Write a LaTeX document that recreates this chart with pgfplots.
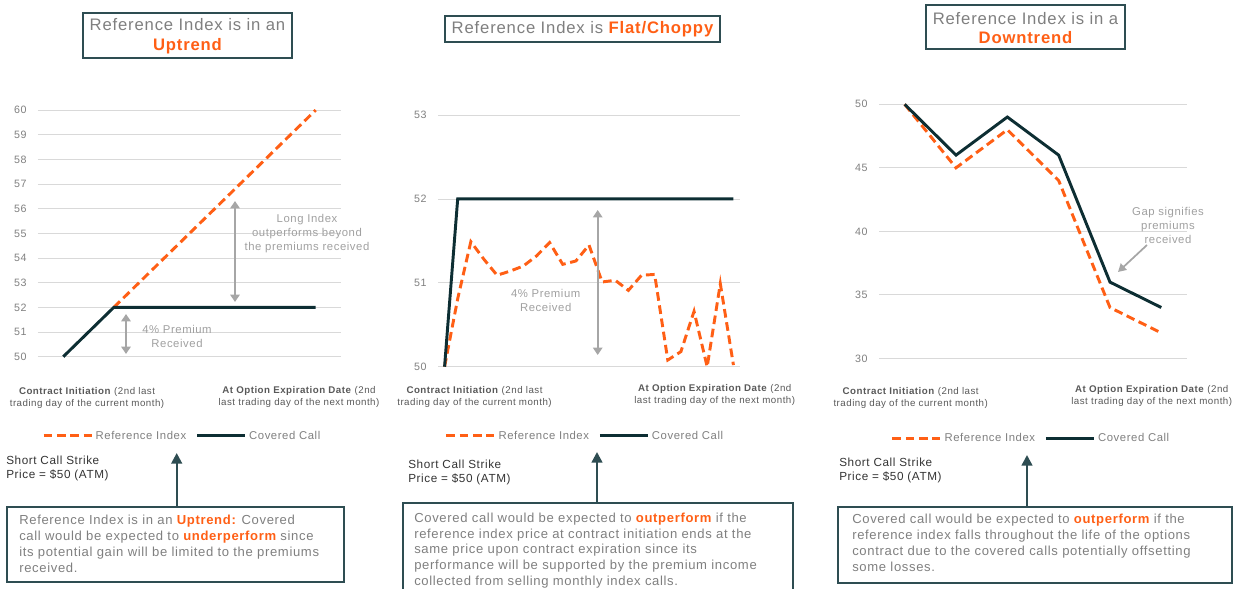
\documentclass[border=0pt]{standalone}
\usepackage{pgfplots}
\pgfplotsset{compat=1.18}
\usepackage{fontspec}
\setmainfont{Liberation Sans}[LetterSpace=5]
\usetikzlibrary{arrows.meta}
\definecolor{orng}{HTML}{FF5F15}
\definecolor{dark}{HTML}{0D2E33}
\definecolor{boxc}{HTML}{2E4D52}
\definecolor{gtxt}{HTML}{7F7F7F}
\definecolor{ltxt}{HTML}{A0A0A0}
\definecolor{garrow}{HTML}{A6A6A6}
\definecolor{gridc}{HTML}{D9D9D9}
\definecolor{lbl}{HTML}{595959}
\definecolor{stxt}{HTML}{333333}

\pgfplotsset{
  cc/.style={scale only axis, clip=false, axis line style={draw=none}, major tick length=0pt,
    xtick=\empty, ymajorgrids, grid style={gridc, line width=0.6pt},
    yticklabel style={font=\fontsize{8}{9}\selectfont, text=gtxt, xshift=-5pt},
    /pgf/number format/assume math mode=true,
    legend columns=2,
    legend style={draw=none, fill=none, font=\fontsize{8.5}{10}\selectfont, text=gtxt, anchor=center,
      /tikz/column 2/.style={column sep=5pt}, inner sep=0pt, nodes={inner sep=2pt}},
    legend image code/.code={\draw[#1] (0pt,0pt) -- (36pt,0pt);}},
  refl/.style={orng, line width=2.2pt, dash pattern=on 6.5pt off 3.5pt},
  ccl/.style={dark, line width=2.2pt},
}

\begin{document}
\begin{tikzpicture}
\path[use as bounding box] (0,0) rectangle (934.5pt,441.75pt);

% ---------- Chart 1: Uptrend ----------
\begin{axis}[cc, at={(28.5pt,174.2pt)}, anchor=south west, width=227.25pt, height=185pt,
  xmin=-0.5, xmax=5.5, ymin=50, ymax=60, ytick={50,51,...,60},
  legend style={at={(0.477,-0.321)}}]
\addplot[refl] coordinates {(1,52)(2,54)(3,56)(4,58)(5,60)};
\addlegendentry{Reference Index}
\addplot[ccl] coordinates {(0,50)(1,52)(2,52)(3,52)(4,52)(5,52)};
\addlegendentry{Covered Call}
\end{axis}

% ---------- Chart 2: Flat/Choppy ----------
\begin{axis}[cc, at={(328.5pt,166.7pt)}, anchor=south west, width=226.5pt, height=188.8pt,
  xmin=-0.5, xmax=22.5, ymin=50, ymax=53, ytick={50,51,52,53},
  legend style={at={(0.488,-0.275)}}]
\addplot[refl] coordinates {(0,50)(1,50.81)(2,51.49)(3,51.28)(4,51.09)(5,51.14)(6,51.2)(7,51.32)(8,51.48)(9,51.22)(10,51.26)(11,51.45)(12,51.01)(13,51.03)(14,50.91)(15,51.09)(16,51.1)(17,50.08)(18,50.18)(19,50.66)(20,50.0)(21,50.99)(22,50.02)};
\addlegendentry{Reference Index}
\addplot[ccl] coordinates {(0,50)(1,52)(2,52)(3,52)(4,52)(5,52)(6,52)(7,52)(8,52)(9,52)(10,52)(11,52)(12,52)(13,52)(14,52)(15,52)(16,52)(17,52)(18,52)(19,52)(20,52)(21,52)(22,52)};
\addlegendentry{Covered Call}
\end{axis}

% ---------- Chart 3: Downtrend ----------
\begin{axis}[cc, at={(659.25pt,173.0pt)}, anchor=south west, width=231pt, height=190.5pt,
  xmin=-0.5, xmax=5.5, ymin=30, ymax=50, ytick={30,35,40,45,50},
  legend style={at={(0.495,-0.314)}}]
\addplot[refl] coordinates {(0,50)(1,45)(2,48)(3,44)(4,34)(5,32)};
\addlegendentry{Reference Index}
\addplot[ccl] coordinates {(0,50)(1,46)(2,49)(3,46)(4,36)(5,34)};
\addlegendentry{Covered Call}
\end{axis}

\begin{scope}[x=0.75pt, y=-0.75pt, yshift=441.75pt]
% titles
\draw[boxc, line width=0.9pt] (83,13) rectangle (292,58);
\node[align=center, font=\fontsize{12.5}{14.6}\selectfont, text=gtxt, inner sep=0pt] at (187.5,36) {Reference Index is in an\\\textcolor{orng}{\bfseries Uptrend}};
\draw[boxc, line width=0.9pt] (445,16) rectangle (720,42);
\node[font=\fontsize{12.5}{14.6}\selectfont, text=gtxt, inner sep=0pt] at (582.5,29.5) {Reference Index is \textcolor{orng}{\bfseries Flat/Choppy}};
\draw[boxc, line width=0.9pt] (926,5) rectangle (1125,49);
\node[align=center, font=\fontsize{12.5}{14.6}\selectfont, text=gtxt, inner sep=0pt] at (1025.5,28) {Reference Index is in a\\\textcolor{orng}{\bfseries Downtrend}};

% chart 1 annotations
\draw[garrow, line width=1.6pt, {Triangle[width=7pt,length=5.5pt]}-{Triangle[width=7pt,length=5.5pt]}] (235,201) -- (235,302);
\node[align=center, font=\fontsize{8.5}{10.5}\selectfont, text=ltxt] at (307,233.5) {Long Index\\outperforms beyond\\the premiums received};
\draw[garrow, line width=1.6pt, {Triangle[width=7pt,length=5.5pt]}-{Triangle[width=7pt,length=5.5pt]}] (126,314) -- (126,354);
\node[align=center, font=\fontsize{8.5}{10.5}\selectfont, text=ltxt] at (177,336.5) {4\% Premium\\Received};

% chart 2 annotations
\draw[garrow, line width=1.6pt, {Triangle[width=7pt,length=5.5pt]}-{Triangle[width=7pt,length=5.5pt]}] (597.7,210) -- (597.7,355);
\node[align=center, font=\fontsize{8.5}{10.5}\selectfont, text=ltxt] at (545.7,300) {4\% Premium\\Received};

% chart 3 annotations
\node[align=center, font=\fontsize{8.5}{10.5}\selectfont, text=ltxt] at (1168,225) {Gap signifies\\premiums\\received};
\draw[garrow, line width=1.3pt, -{Triangle[width=6.5pt,length=6pt]}] (1147,245) -- (1118,272);

% x labels
\foreach \xa/\xb/\yy in {87/299/398, 474.5/714.7/396.5, 910.7/1151.7/397.5}{
  \node[align=center, font=\fontsize{7.3}{9}\selectfont, text=lbl] at (\xa,\yy) {\textbf{Contract Initiation} (2nd last\\trading day of the current month)};
  \node[align=center, font=\fontsize{7.3}{9}\selectfont, text=lbl] at (\xb,\yy-1.5) {\textbf{At Option Expiration Date} (2nd\\last trading day of the next month)};
}

% short call strike
\node[anchor=west, align=left, font=\fontsize{8.8}{10.5}\selectfont, text=stxt, inner sep=0pt] at (6,468) {Short Call Strike\\Price = \$50 (ATM)};
\node[anchor=west, align=left, font=\fontsize{8.8}{10.5}\selectfont, text=stxt, inner sep=0pt] at (408,472) {Short Call Strike\\Price = \$50 (ATM)};
\node[anchor=west, align=left, font=\fontsize{8.8}{10.5}\selectfont, text=stxt, inner sep=0pt] at (839,470) {Short Call Strike\\Price = \$50 (ATM)};

% dark arrows
\draw[boxc, line width=1.8pt, -{Triangle[width=8pt,length=8pt]}] (176.7,507) -- (176.7,453);
\draw[boxc, line width=1.8pt, -{Triangle[width=8pt,length=8pt]}] (597,503) -- (597,452);
\draw[boxc, line width=1.8pt, -{Triangle[width=8pt,length=8pt]}] (1027,507) -- (1027,455);

% boxes
\draw[boxc, line width=1.1pt] (7,507) rectangle (344,582);
\node[anchor=west, align=left, font=\fontsize{9.8}{12}\selectfont, text=gtxt, inner sep=0pt] at (19,543.5) {Reference Index is in an \textcolor{orng}{\bfseries Uptrend:} Covered\\call would be expected to \textcolor{orng}{\bfseries underperform} since\\its potential gain will be limited to the premiums\\received.};
\draw[boxc, line width=1.1pt] (403,600) -- (403,503) -- (793,503) -- (793,600);
\node[anchor=west, align=left, font=\fontsize{9.8}{11.9}\selectfont, text=gtxt, inner sep=0pt] at (414,550.5) {Covered call would be expected to \textcolor{orng}{\bfseries outperform} if the\\reference index price at contract initiation ends at the\\same price upon contract expiration since its\\performance will be supported by the premium income\\collected from selling monthly index calls.};
\draw[boxc, line width=1.1pt] (838,507) rectangle (1232,583);
\node[anchor=west, align=left, font=\fontsize{9.8}{12}\selectfont, text=gtxt, inner sep=0pt] at (852,543) {Covered call would be expected to \textcolor{orng}{\bfseries outperform} if the\\reference index falls throughout the life of the options\\contract due to the covered calls potentially offsetting\\some losses.};
\end{scope}
\end{tikzpicture}
\end{document}
